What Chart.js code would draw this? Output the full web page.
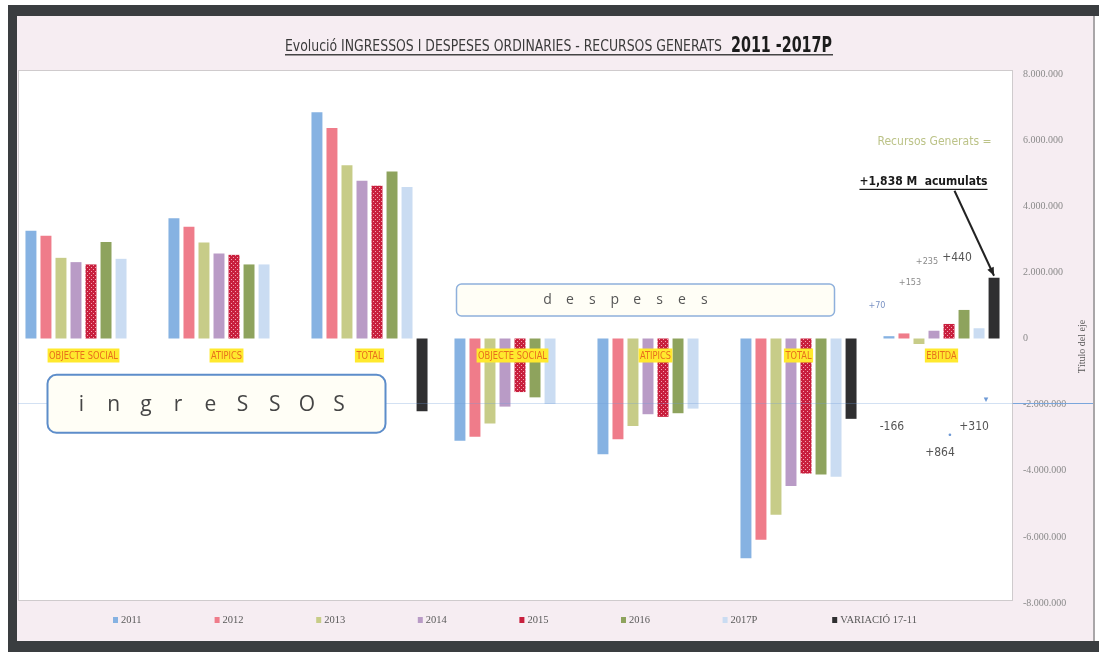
<!DOCTYPE html>
<html>
<head>
<meta charset="utf-8">
<script src="https://cdn.jsdelivr.net/npm/chart.js@4.4.1/dist/chart.umd.min.js"></script>
<style>
  html, body { margin: 0; padding: 0; background: #fff; }
  #wrap { width: 1099px; height: 652px; }
</style>
</head>
<body>
<div id="wrap"><canvas id="myChart" width="1099" height="652"></canvas></div>
<script>
// categories: 3 ingressos groups, 3 despeses groups, EBITDA
const categories = ['OBJECTE SOCIAL', 'ATIPICS', 'TOTAL', 'OBJECTE SOCIAL', 'ATIPICS', 'TOTAL', 'EBITDA'];
const seriesNames = ['2011', '2012', '2013', '2014', '2015', '2016', '2017P', 'VARIACIÓ 17-11'];

const v2011 = [3260000, 3640000, 6840000, -3090000, -3500000, -6650000, 70000];
const v2012 = [3110000, 3380000, 6370000, -2970000, -3050000, -6090000, 153000];
const v2013 = [2440000, 2900000, 5240000, -2570000, -2650000, -5330000, -166000];
const v2014 = [2310000, 2570000, 4770000, -2060000, -2290000, -4460000, 235000];
const v2015 = [2240000, 2530000, 4620000, -1620000, -2370000, -4080000, 440000];
const v2016 = [2920000, 2240000, 5050000, -1780000, -2260000, -4110000, 864000];
const v2017P = [2410000, 2240000, 4580000, -1980000, -2120000, -4180000, 310000];
const variacio = [null, null, -2200000, null, null, -2430000, 1838000];

const yTicks = [-8000000, -6000000, -4000000, -2000000, 0, 2000000, 4000000, 6000000, 8000000];

// EBITDA increments written next to the bars
const ebitdaTexts = ['+70', '+153', '+235', '+440', '-166', '+864', '+310'];

const seriesValues = [v2011, v2012, v2013, v2014, v2015, v2016, v2017P, variacio];
const seriesColors = ['#86b2e2', '#ef7c8a', '#c7cc88', '#b99bc6', '#c81f3d', '#8ea35d', '#cadcf2', '#2f2f31'];

function dottedPattern() {
    const c = document.createElement('canvas');
    c.width = 4; c.height = 4;
    const g = c.getContext('2d');
    g.fillStyle = '#c81f3d';
    g.fillRect(0, 0, 4, 4);
    g.fillStyle = '#f2a2b2';
    g.fillRect(1, 1, 1, 1);
    g.fillRect(3, 3, 1, 1);
    return g.createPattern(c, 'repeat');
}

function fmt(v) {
    const s = Math.abs(v).toString().replace(/\B(?=(\d{3})+(?!\d))/g, '.');
    return (v < 0 ? '-' : '') + s;
}

const NARROW = "'Liberation Sans Narrow', 'DejaVu Sans Condensed', sans-serif";

// draws text starting at x, squeezed or stretched to the given width
function drawScaledText(ctx, text, x, y, width) {
    const w = ctx.measureText(text).width;
    ctx.save();
    ctx.textAlign = 'left';
    ctx.translate(x, y);
    ctx.scale(width / w, 1);
    ctx.fillText(text, 0, 0);
    ctx.restore();
}

const backdrop = {
    id: 'backdrop',
    beforeDraw(chart) {
        const ctx = chart.ctx;
        const a = chart.chartArea;
        ctx.save();
        ctx.fillStyle = '#ffffff';
        ctx.fillRect(0, 0, chart.width, chart.height);
        ctx.fillStyle = '#f6edf2';
        ctx.fillRect(17, 16, 1076, 625);
        ctx.fillStyle = '#ffffff';
        ctx.fillRect(a.left + 6, a.top - 4, a.right - a.left - 7, a.bottom - a.top + 1);
        ctx.strokeStyle = '#cfcbcd';
        ctx.lineWidth = 1;
        ctx.strokeRect(a.left + 6.5, a.top - 3.5, a.right - a.left - 7, a.bottom - a.top + 1);

        // title
        ctx.textBaseline = 'alphabetic';
        ctx.fillStyle = '#3a3a3a';
        ctx.font = '16px ' + NARROW;
        drawScaledText(ctx, 'Evolució INGRESSOS I DESPESES ORDINARIES - RECURSOS GENERATS', 285, 51, 437);
        ctx.fillStyle = '#1c1c1c';
        ctx.font = 'bold 21px ' + NARROW;
        drawScaledText(ctx, '2011 -2017P', 731, 52, 101);
        ctx.fillStyle = '#444';
        ctx.fillRect(285, 54, 548, 1.5);
        ctx.restore();
    }
};

function roundBox(ctx, x1, y1, x2, y2, r, stroke, lw) {
    ctx.beginPath();
    ctx.roundRect(x1, y1, x2 - x1, y2 - y1, r);
    ctx.fillStyle = '#fffef6';
    ctx.fill();
    ctx.strokeStyle = stroke;
    ctx.lineWidth = lw;
    ctx.stroke();
}

const overlay = {
    id: 'overlay',
    afterDatasetsDraw(chart) {
        const ctx = chart.ctx;
        const xs = chart.scales.x, ys = chart.scales.y;
        const a = chart.chartArea;
        ctx.save();

        // -2.000.000 reference line
        const yl = Math.round(ys.getPixelForValue(-2000000)) - 1.5;
        ctx.strokeStyle = 'rgba(110,155,215,0.3)';
        ctx.lineWidth = 1;
        ctx.beginPath(); ctx.moveTo(a.left + 6, yl); ctx.lineTo(a.right, yl); ctx.stroke();
        ctx.strokeStyle = '#7aa6dc';
        ctx.beginPath(); ctx.moveTo(a.right, yl); ctx.lineTo(1093, yl); ctx.stroke();

        // category labels with yellow highlight
        const y0 = ys.getPixelForValue(0) + 17;
        ctx.font = '10px ' + NARROW;
        ctx.textBaseline = 'middle';
        categories.forEach((c, i) => {
            const x = xs.getPixelForValue(i);
            const w = ctx.measureText(c).width * 0.92;
            ctx.fillStyle = '#ffe92e';
            ctx.fillRect(x - w / 2 - 1.5, y0 - 7, w + 3, 14);
            ctx.fillStyle = '#e8701c';
            drawScaledText(ctx, c, x - w / 2, y0 + 0.5, w);
        });

        // "ingressos" box
        ctx.textAlign = 'center';
        const ix1 = xs.getPixelForValue(0) - 36, ix2 = xs.getPixelForValue(2) + 16;
        const iy1 = ys.getPixelForValue(-1100000), iy2 = ys.getPixelForValue(-2850000);
        roundBox(ctx, ix1, iy1, ix2, iy2, 9, '#5d8dca', 2);
        ctx.fillStyle = '#454545';
        ctx.font = '21px "Open Sans", sans-serif';
        'ingreSSOS'.split('').forEach((ch, k) => {
            ctx.fillText(ch, ix1 + 34 + k * 32.2, (iy1 + iy2) / 2 + 1);
        });

        // "despeses" box
        const dx1 = xs.getPixelForValue(3) - 56, dx2 = xs.getPixelForValue(5) + 36;
        const dy1 = ys.getPixelForValue(1650000), dy2 = ys.getPixelForValue(680000);
        roundBox(ctx, dx1, dy1, dx2, dy2, 5, '#8eb0dc', 1.5);
        ctx.fillStyle = '#555';
        ctx.font = '14px "Open Sans", sans-serif';
        'despeses'.split('').forEach((ch, k) => {
            ctx.fillText(ch, dx1 + 91 + k * 22.4, (dy1 + dy2) / 2);
        });

        // EBITDA increments
        const spots = [
            { ds: 0, dx: -12, v: 980000, size: 9, color: '#7b93c4' },
            { ds: 1, dx: 6, v: 1680000, size: 9, color: '#8a8a8a' },
            { ds: 3, dx: -7, v: 2310000, size: 9, color: '#8a8a8a' },
            { ds: 4, dx: 8, v: 2430000, size: 12, color: '#555' },
            { ds: 0, dx: 3, v: -2680000, size: 12, color: '#555' },
            { ds: 3, dx: 6, v: -3460000, size: 12, color: '#555' },
            { ds: 6, dx: -5, v: -2680000, size: 12, color: '#555' }
        ];
        spots.forEach((s, k) => {
            const bar = chart.getDatasetMeta(s.ds).data[6];
            ctx.font = s.size + 'px ' + NARROW;
            ctx.fillStyle = s.color;
            ctx.fillText(ebitdaTexts[k], bar.x + s.dx, ys.getPixelForValue(s.v));
        });
        // small leftover markers
        ctx.fillStyle = '#6f9ad6';
        const m1 = chart.getDatasetMeta(7).data[6];
        ctx.font = '9px "DejaVu Sans", sans-serif';
        ctx.fillText('▾', m1.x - 8, ys.getPixelForValue(-1850000));
        const m2 = chart.getDatasetMeta(4).data[6];
        ctx.fillText('•', m2.x + 1, ys.getPixelForValue(-2950000));

        // recursos generats note + arrow
        const cx = xs.getPixelForValue(6);
        ctx.fillStyle = '#bcc388';
        ctx.font = '12px ' + NARROW;
        ctx.fillText('Recursos Generats =', cx - 7, ys.getPixelForValue(5940000));
        ctx.fillStyle = '#1a1a1a';
        ctx.font = 'bold 12px ' + NARROW;
        const t = '+1,838 M  acumulats';
        const tw = ctx.measureText(t).width;
        const ty = ys.getPixelForValue(4740000);
        ctx.fillText(t, cx - 18, ty);
        ctx.fillRect(cx - 18 - tw / 2, ty + 7, tw, 1.2);

        const top = chart.getDatasetMeta(7).data[6];
        const sx = cx + 13, sy = ty + 9, ex = top.x, ey = top.y - 2;
        ctx.strokeStyle = '#222';
        ctx.lineWidth = 2;
        ctx.beginPath(); ctx.moveTo(sx, sy); ctx.lineTo(ex, ey); ctx.stroke();
        const ang = Math.atan2(ey - sy, ex - sx);
        ctx.beginPath();
        ctx.moveTo(ex, ey);
        ctx.lineTo(ex - 9 * Math.cos(ang - 0.4), ey - 9 * Math.sin(ang - 0.4));
        ctx.lineTo(ex - 9 * Math.cos(ang + 0.4), ey - 9 * Math.sin(ang + 0.4));
        ctx.closePath();
        ctx.fillStyle = '#222';
        ctx.fill();
        ctx.restore();
    },
    afterDraw(chart) {
        const ctx = chart.ctx;
        const a = chart.chartArea;
        ctx.save();
        // axis title, read bottom to top
        ctx.translate(a.right + 69, (a.top + a.bottom) / 2 + 8);
        ctx.rotate(-Math.PI / 2);
        ctx.font = '10px "Liberation Serif", serif';
        ctx.fillStyle = '#555';
        ctx.textAlign = 'center';
        ctx.textBaseline = 'middle';
        ctx.fillText('Título del eje', 0, 0);
        ctx.restore();

        // legend
        ctx.save();
        ctx.font = '10.5px "Liberation Serif", serif';
        ctx.textBaseline = 'middle';
        ctx.textAlign = 'left';
        seriesNames.forEach((n, i) => {
            const x = a.left + 101 + i * 101.6 + (i === 7 ? 8 : 0);
            const y = a.bottom + 17;
            ctx.fillStyle = i === 4 ? '#c81f3d' : seriesColors[i];
            ctx.fillRect(x, y - 3, 5, 6);
            ctx.fillStyle = '#5a5a5a';
            ctx.fillText(n, x + 8, y);
        });
        ctx.restore();

        // photo frame
        ctx.save();
        ctx.fillStyle = '#3a3d40';
        ctx.fillRect(8, 5, 1091, 11);
        ctx.fillRect(8, 5, 9, 647);
        ctx.fillRect(8, 641, 1091, 11);
        ctx.fillStyle = '#a9a6a8';
        ctx.fillRect(1093, 16, 2, 625);
        ctx.restore();
    }
};

const datasets = seriesNames.map((name, i) => ({
    label: name,
    data: seriesValues[i],
    backgroundColor: i === 4 ? dottedPattern() : seriesColors[i],
    borderWidth: 0
}));

new Chart(document.getElementById('myChart'), {
    type: 'bar',
    data: { labels: categories, datasets: datasets },
    options: {
        responsive: false,
        animation: false,
        categoryPercentage: 0.84,
        barPercentage: 0.73,
        layout: { padding: { left: 12, right: 6, top: 74, bottom: 49 } },
        plugins: {
            legend: { display: false },
            tooltip: { enabled: false },
            title: { display: false }
        },
        scales: {
            x: { display: false },
            y: {
                position: 'right',
                min: -8000000,
                max: 8000000,
                afterBuildTicks: s => { s.ticks = yTicks.map(v => ({ value: v })); },
                afterFit: s => { s.width = 80; },
                ticks: {
                    callback: v => fmt(v),
                    font: { family: 'Liberation Serif', size: 10 },
                    color: '#8a8a8a',
                    padding: 10
                },
                grid: { display: false, drawTicks: false },
                border: { display: false }
            }
        }
    },
    plugins: [backdrop, overlay]
});
</script>
</body>
</html>
